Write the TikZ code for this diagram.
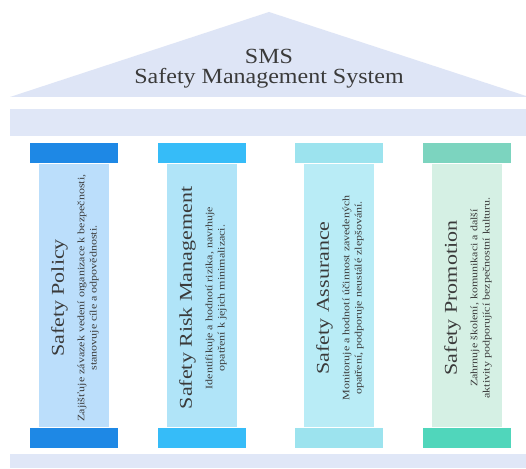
\documentclass[tikz,border=0pt]{standalone}
\usepackage{fontspec}
\setmainfont{Liberation Serif}
\definecolor{roofc}{HTML}{DEE5F6}
\definecolor{beamc}{HTML}{E0E7F7}
\definecolor{txt}{HTML}{3A3A3A}
\definecolor{capA}{HTML}{1E88E5}\definecolor{shA}{HTML}{BBDEFB}
\definecolor{capB}{HTML}{36BCF8}\definecolor{shB}{HTML}{B0E4F8}
\definecolor{capC}{HTML}{9CE3EE}\definecolor{shC}{HTML}{B9ECF6}
\definecolor{capDt}{HTML}{7CD4BF}\definecolor{capDb}{HTML}{50D6BB}\definecolor{shD}{HTML}{D5F0E4}
\newcommand{\ttlfont}{\fontsize{22}{24}\selectfont}
\newcommand{\dscfont}{\fontsize{12}{15}\selectfont}
\begin{document}
\begin{tikzpicture}[x=1pt,y=1pt,
  capbox/.style={rectangle, minimum width=89pt, minimum height=21pt, inner sep=0pt, draw=white, line width=0.6pt},
  shaftbox/.style={rectangle, minimum width=71pt, minimum height=264pt, inner sep=0pt, draw=white, line width=0.6pt},
  pillartext/.style={rotate=90, yscale=0.82, align=center, text=txt, inner sep=0pt, font=\dscfont},
]
\useasboundingbox (0,0) rectangle (526,468);
\fill[white] (0,0) rectangle (526,468);
% roof
\fill[roofc] (10,371) -- (269,456) -- (526,372) -- (526,371) -- cycle;
\node[text=txt, align=center, yscale=0.9, font=\fontsize{24}{22}\selectfont] (title) at (269,399.5) {SMS\\Safety Management System};
% beam and base
\node[rectangle, fill=beamc, minimum width=516pt, minimum height=27pt, inner sep=0pt] (beam) at (268,345.5) {};
\node[rectangle, fill=beamc, minimum width=516pt, minimum height=14pt, inner sep=0pt] (base) at (268,7) {};
% pillars
\foreach \n/\cx/\ct/\cb/\sh in {A/74/capA/capA/shA, B/202/capB/capB/shB, C/339/capC/capC/shC, D/467/capDt/capDb/shD}{
  \node[shaftbox, fill=\sh] (shaft\n) at (\cx,173) {};
  \node[capbox, fill=\ct] (top\n) at (\cx,315.5) {};
  \node[capbox, fill=\cb] (bot\n) at (\cx,30.5) {};
}
\node[pillartext] (tA) at (75,170) {\ttlfont Safety Policy\\[10pt]Zajišťuje závazek vedení organizace k bezpečnosti,\\ stanovuje cíle a odpovědnosti.};
\node[pillartext] (tB) at (203,170) {\ttlfont Safety Risk Management\\[10pt]Identifikuje a hodnotí rizika, navrhuje\\ opatření k jejich minimalizaci.};
\node[pillartext] (tC) at (340,170) {\ttlfont Safety Assurance\\[10pt]Monitoruje a hodnotí účinnost zavedených\\ opatření, podporuje neustálé zlepšování.};
\node[pillartext] (tD) at (468,170) {\ttlfont Safety Promotion\\[10pt]Zahrnuje školení, komunikaci a další\\ aktivity podporující bezpečnostní kulturu.};
\end{tikzpicture}
\end{document}
